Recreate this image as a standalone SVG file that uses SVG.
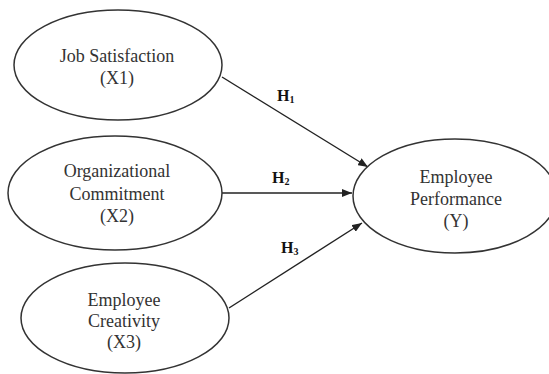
<svg xmlns="http://www.w3.org/2000/svg" width="549" height="374" viewBox="0 0 549 374">
<defs>
<marker id="arr" markerWidth="10" markerHeight="8" refX="10" refY="4" orient="auto" markerUnits="userSpaceOnUse">
<path d="M0,0 L10,4 L0,8 Z" fill="#222"/>
</marker>
</defs>
<style>
.node ellipse{fill:#fff;stroke:#333;stroke-width:1.5}
.node text{font-family:"Liberation Serif","Times New Roman",serif;font-size:18px;fill:#333;text-anchor:middle}
.edge line{stroke:#222;stroke-width:1.4;marker-end:url(#arr)}
.lbl{font-family:"Liberation Serif","Times New Roman",serif;font-size:16px;font-weight:bold;fill:#111}
.sub{font-size:10px}
</style>
<rect width="549" height="374" fill="#fff"/>
<g id="edges" class="edge">
<line x1="222" y1="77" x2="368" y2="167"/>
<line x1="222" y1="193" x2="352" y2="193"/>
<line x1="229" y1="308" x2="362" y2="223"/>
</g>
<g id="edge-labels">
<text class="lbl" x="277" y="101">H<tspan class="sub" dy="2">1</tspan></text>
<text class="lbl" x="272" y="183">H<tspan class="sub" dy="2">2</tspan></text>
<text class="lbl" x="281" y="253">H<tspan class="sub" dy="2">3</tspan></text>
</g>
<g id="x1" class="node">
<ellipse cx="118" cy="65" rx="104" ry="55"/>
<text x="117" y="62">Job Satisfaction</text>
<text x="117" y="84">(X1)</text>
</g>
<g id="x2" class="node">
<ellipse cx="115" cy="193" rx="107" ry="57"/>
<text x="117" y="177">Organizational</text>
<text x="117" y="200">Commitment</text>
<text x="117" y="222">(X2)</text>
</g>
<g id="x3" class="node">
<ellipse cx="125" cy="318" rx="104" ry="55"/>
<text x="124" y="306">Employee</text>
<text x="124" y="327">Creativity</text>
<text x="124" y="348">(X3)</text>
</g>
<g id="y" class="node">
<ellipse cx="455" cy="196" rx="102" ry="57"/>
<text x="456" y="183">Employee</text>
<text x="456" y="205">Performance</text>
<text x="456" y="227">(Y)</text>
</g>
</svg>
